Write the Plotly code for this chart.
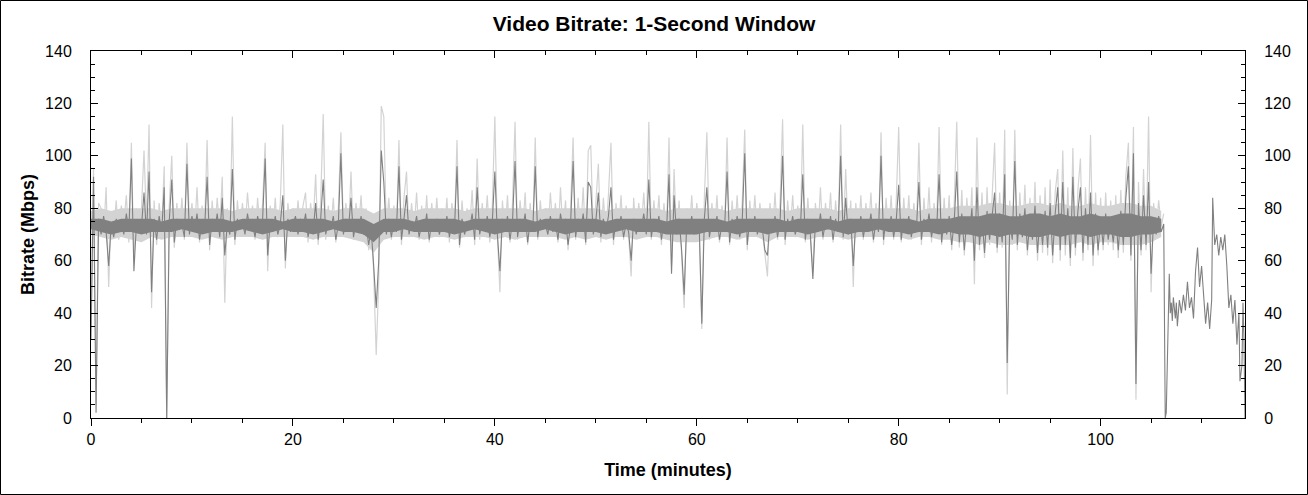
import plotly.graph_objects as go

# sample spacing of the dense part of the trace (minutes)
step_min = 0.25

# 1-second bitrate (Mbps), dark trace, one value every 15 s up to 106.25 min
bitrate_avg = [
    30, 92, 2, 76, 70, 77, 71, 58, 74, 69, 76, 72, 75, 70, 78, 71, 99, 56, 74, 72,       # 0-5
    73, 86, 70, 94, 48, 76, 68, 77, 71, 88, 0, 75, 91, 67, 76, 72, 74, 69, 97, 70,       # 5-10
    77, 71, 78, 68, 75, 72, 92, 66, 76, 71, 78, 69, 84, 62, 74, 70, 95, 68, 76, 72,      # 10-15
    75, 70, 78, 72, 74, 69, 77, 73, 76, 99, 62, 75, 71, 77, 70, 74, 85, 60, 76, 71,      # 15-20
    73, 77, 70, 76, 72, 78, 69, 75, 71, 82, 68, 76, 91, 70, 75, 72, 77, 68, 74, 101,     # 20-25
    70, 76, 72, 84, 69, 75, 71, 77, 70, 74, 66, 72, 58, 42, 60, 102, 90, 70, 76, 69,     # 25-30
    75, 71, 96, 68, 76, 85, 70, 75, 72, 77, 69, 74, 71, 78, 68, 75, 72, 76, 70, 74,      # 30-35
    71, 77, 69, 75, 72, 96, 66, 76, 70, 74, 72, 78, 68, 88, 70, 75, 72, 77, 69, 75,      # 35-40
    94, 70, 56, 76, 71, 77, 68, 75, 98, 69, 76, 72, 78, 67, 75, 71, 96, 69, 76, 72,      # 40-45
    74, 70, 77, 71, 75, 68, 78, 72, 76, 66, 74, 98, 69, 76, 71, 78, 67, 90, 88, 70,      # 45-50
    75, 86, 69, 76, 71, 77, 88, 68, 75, 72, 77, 69, 74, 71, 60, 76, 70, 75, 72, 78,      # 50-55
    70, 91, 69, 76, 72, 77, 68, 75, 71, 93, 55, 85, 70, 76, 64, 47, 74, 71, 77, 70,      # 55-60
    75, 72, 36, 76, 88, 69, 75, 71, 77, 68, 74, 72, 94, 67, 76, 71, 77, 69, 75, 101,     # 60-65
    66, 76, 71, 77, 70, 75, 72, 64, 62, 75, 71, 77, 69, 75, 100, 68, 76, 72, 77, 70,     # 65-70
    74, 71, 93, 68, 76, 70, 53, 75, 71, 78, 69, 75, 72, 77, 68, 76, 71, 100, 69, 84,     # 70-75
    70, 76, 58, 75, 71, 77, 69, 75, 72, 78, 68, 75, 71, 100, 68, 76, 71, 77, 69, 75,     # 75-80
    89, 68, 76, 71, 77, 69, 75, 72, 90, 68, 76, 71, 78, 69, 75, 71, 93, 67, 76, 70,      # 80-85
    77, 66, 75, 94, 67, 78, 64, 76, 70, 80, 60, 88, 66, 77, 63, 79, 68, 76, 86, 65,      # 85-90
    78, 67, 93, 21, 75, 68, 98, 66, 78, 69, 80, 64, 76, 68, 81, 63, 77, 66, 79, 65,      # 90-95
    82, 62, 78, 88, 64, 90, 66, 80, 61, 92, 65, 79, 88, 63, 80, 66, 86, 62, 78, 64,      # 95-100
    76, 66, 78, 68, 75, 67, 77, 64, 79, 66, 84, 96, 62, 101, 13, 82, 64, 85, 66, 90,     # 100-105
    55, 76, 70, 77, 71, 74,                                                              # 105-106.25
]

# peak bitrate (Mbps), light trace, same sampling
bitrate_peak = [
    35, 95, 5, 82, 80, 70, 88, 50, 79, 72, 83, 68, 81, 74, 85, 67, 105, 60, 80, 70,
    80, 102, 74, 112, 42, 83, 66, 82, 72, 96, 0, 81, 100, 65, 82, 70, 84, 68, 105, 73,
    82, 70, 88, 67, 81, 73, 106, 64, 83, 70, 84, 72, 92, 44, 80, 69, 115, 66, 83, 71,
    82, 71, 86, 74, 81, 68, 84, 72, 82, 105, 56, 81, 70, 84, 69, 82, 112, 57, 82, 72,
    80, 70, 83, 72, 81, 86, 67, 82, 73, 93, 66, 83, 116, 68, 81, 71, 84, 67, 80, 109,
    72, 82, 70, 94, 68, 82, 72, 85, 68, 80, 64, 78, 55, 24, 52, 119, 115, 72, 84, 68,
    81, 70, 106, 66, 84, 94, 69, 82, 72, 86, 68, 81, 70, 85, 67, 82, 71, 84, 69, 80,
    71, 84, 67, 82, 72, 106, 65, 83, 69, 80, 72, 87, 66, 99, 68, 82, 71, 85, 67, 81,
    115, 70, 48, 83, 70, 85, 67, 82, 113, 68, 83, 71, 86, 66, 82, 70, 107, 68, 83, 72,
    80, 69, 86, 72, 82, 67, 88, 71, 83, 64, 80, 107, 68, 84, 70, 88, 66, 102, 104, 70,
    82, 97, 67, 84, 70, 85, 105, 66, 82, 71, 85, 68, 81, 70, 54, 84, 69, 82, 72, 86,
    69, 113, 68, 83, 71, 85, 66, 82, 70, 107, 58, 95, 69, 83, 62, 42, 80, 70, 85, 69,
    82, 71, 34, 84, 109, 68, 82, 70, 85, 67, 81, 71, 107, 66, 83, 70, 85, 68, 82, 110,
    64, 83, 70, 85, 69, 82, 71, 62, 54, 82, 70, 86, 68, 82, 114, 66, 83, 71, 85, 69,
    81, 70, 112, 67, 84, 69, 56, 82, 70, 88, 68, 82, 71, 86, 67, 83, 70, 112, 68, 95,
    69, 83, 50, 82, 70, 85, 68, 82, 71, 86, 67, 82, 70, 109, 66, 84, 70, 85, 68, 82,
    111, 67, 84, 70, 85, 68, 82, 71, 105, 66, 84, 70, 88, 67, 82, 71, 111, 66, 84, 69,
    85, 64, 82, 113, 65, 87, 62, 84, 68, 88, 51, 107, 64, 86, 61, 88, 66, 84, 105, 63,
    86, 65, 110, 9, 83, 66, 110, 64, 86, 67, 89, 62, 84, 66, 90, 60, 85, 63, 88, 62,
    91, 59, 86, 95, 60, 102, 62, 88, 58, 103, 62, 87, 99, 60, 88, 64, 108, 58, 86, 62,
    84, 64, 86, 66, 83, 64, 85, 61, 87, 63, 92, 105, 60, 111, 7, 90, 62, 95, 64, 115,
    48, 82, 72, 83, 73, 78,
]

# end credits section, read point by point
tail_time = [106.4, 106.5, 106.6, 106.7, 106.8, 106.9, 107.0, 107.1, 107.2, 107.4,
             107.5, 107.6, 107.8, 108.0, 108.2, 108.4, 108.6, 108.8, 109.0, 109.2,
             109.4, 109.6, 109.8, 110.0, 110.2, 110.4, 110.6, 110.8, 111.0, 111.1,
             111.3, 111.5, 111.7, 111.9, 112.1, 112.3, 112.5, 112.7, 112.9, 113.1,
             113.3, 113.5, 113.7, 113.8, 114.0, 114.1, 114.2, 114.3]
tail_rate = [0, 2, 22, 48, 55, 40, 44, 37, 46, 38,
             44, 35, 45, 40, 47, 41, 52, 42, 46, 38,
             56, 65, 50, 58, 45, 36, 44, 34, 45, 84,
             66, 70, 62, 69, 64, 70, 58, 42, 47, 36,
             45, 28, 40, 14, 20, 44, 30, 0]

# solid core of each band (where the 1-s samples pile up), one value per minute 0-106
avg_core_lo = [
    72, 71, 70, 71, 71, 70, 71, 71, 71, 72, 71, 70, 71, 71, 71, 72, 71, 70, 71, 72,
    71, 71, 70, 71, 72, 71, 71, 70, 67, 71, 71, 72, 71, 71, 71, 71, 70, 71, 72, 71,
    70, 71, 71, 71, 71, 72, 71, 70, 71, 71, 71, 70, 71, 72, 71, 71, 71, 70, 70, 70,
    70, 71, 71, 71, 70, 71, 71, 70, 71, 71, 71, 70, 71, 72, 71, 70, 71, 71, 72, 71,
    71, 70, 71, 71, 70, 71, 70, 70, 69, 70, 69, 70, 70, 69, 69, 70, 69, 70, 70, 69,
    70, 70, 69, 69, 70, 70, 71,
]
avg_core_hi = [
    76, 76, 75, 76, 76, 76, 76, 75, 76, 76, 76, 76, 76, 76, 75, 76, 76, 76, 76, 75,
    76, 76, 76, 76, 75, 76, 76, 76, 74, 76, 76, 76, 75, 76, 76, 76, 76, 75, 76, 76,
    76, 76, 76, 76, 75, 76, 76, 76, 76, 76, 76, 75, 76, 76, 76, 76, 76, 75, 76, 76,
    76, 76, 76, 75, 76, 76, 76, 76, 76, 75, 76, 76, 76, 76, 75, 76, 76, 76, 76, 76,
    76, 76, 75, 76, 76, 76, 77, 77, 77, 78, 78, 77, 77, 78, 78, 77, 78, 77, 77, 78,
    77, 77, 78, 78, 77, 77, 76,
]
peak_core_lo = [
    70, 69, 68, 69, 68, 67, 69, 68, 69, 69, 69, 68, 69, 68, 69, 69, 69, 68, 69, 69,
    69, 69, 68, 69, 69, 69, 68, 67, 63, 68, 69, 69, 69, 68, 69, 69, 68, 69, 69, 69,
    68, 69, 68, 69, 69, 69, 69, 68, 69, 68, 69, 68, 69, 69, 68, 69, 69, 68, 67, 67,
    67, 68, 69, 69, 68, 69, 69, 67, 69, 69, 69, 68, 69, 69, 69, 68, 69, 69, 69, 69,
    69, 68, 69, 69, 68, 68, 67, 67, 66, 67, 66, 66, 67, 66, 66, 66, 66, 66, 67, 66,
    67, 67, 66, 66, 66, 67, 69,
]
peak_core_hi = [
    79, 80, 79, 80, 80, 80, 80, 79, 80, 80, 80, 80, 80, 80, 79, 80, 80, 80, 80, 79,
    80, 80, 80, 80, 79, 80, 80, 80, 78, 80, 80, 80, 79, 80, 80, 80, 80, 79, 80, 80,
    80, 80, 80, 80, 79, 80, 80, 80, 80, 80, 80, 79, 80, 80, 80, 80, 80, 79, 80, 80,
    80, 80, 80, 79, 80, 80, 80, 80, 80, 79, 80, 80, 80, 80, 79, 80, 80, 80, 80, 80,
    80, 80, 79, 80, 80, 80, 81, 81, 81, 82, 82, 81, 81, 82, 82, 81, 82, 81, 81, 82,
    81, 81, 82, 82, 81, 81, 79,
]

times = [i * step_min for i in range(len(bitrate_avg))]
core_times = list(range(len(avg_core_lo)))

DARK = "#808080"
LIGHT = "#d3d3d3"


def core_band(lo, hi, color, xa, ya):
    # closed polygon: along the top edge, back along the bottom edge
    return go.Scatter(x=core_times + core_times[::-1], y=hi + lo[::-1], fill="toself",
                      fillcolor=color, line=dict(width=0), mode="lines",
                      hoverinfo="skip", showlegend=False, xaxis=xa, yaxis=ya)


fig = go.Figure()
# light trace on the main axes, dark one on the overlay axes so it sits on top
fig.add_trace(core_band(peak_core_lo, peak_core_hi, LIGHT, "x", "y"))
fig.add_trace(go.Scatter(x=times, y=bitrate_peak, mode="lines",
                         line=dict(color=LIGHT, width=1.2), showlegend=False))
fig.add_trace(core_band(avg_core_lo, avg_core_hi, DARK, "x2", "y2"))
fig.add_trace(go.Scatter(x=times + tail_time, y=bitrate_avg + tail_rate, mode="lines",
                         line=dict(color=DARK, width=1.1), showlegend=False,
                         xaxis="x2", yaxis="y2"))

W, H = 1308, 495
ml, mr, mt, mb = 91, 63, 51, 77
pw, ph = W - ml - mr, H - mt - mb
font = "Arial, Liberation Sans, sans-serif"

xr = [0, 114.3]
yr = [0, 140]
tick_col = "black"

fig.update_layout(
    width=W, height=H,
    margin=dict(l=ml, r=mr, t=mt, b=mb, autoexpand=False),
    paper_bgcolor="white", plot_bgcolor="white",
    font=dict(family=font, size=16, color="black"),
    title=dict(text="<b>Video Bitrate: 1-Second Window</b>", x=0.5, xanchor="center",
               y=1 - 24 / H, yanchor="middle", yref="container",
               font=dict(size=21)),
    xaxis=dict(range=xr, dtick=20, ticks="outside", ticklen=7, tickcolor=tick_col,
               showline=True, linecolor="black", showgrid=False, zeroline=False,
               minor=dict(dtick=5, ticks="outside", ticklen=4, tickcolor=tick_col),
               title=dict(text="<b>Time (minutes)</b>", font=dict(size=18), standoff=16)),
    xaxis2=dict(range=xr, overlaying="x", side="top", dtick=20, ticks="inside", ticklen=7,
                tickcolor=tick_col, showticklabels=False, showline=True, linecolor="black",
                showgrid=False, zeroline=False,
                minor=dict(dtick=5, ticks="inside", ticklen=4, tickcolor=tick_col)),
    yaxis=dict(range=yr, dtick=20, ticks="inside", ticklen=7, tickcolor=tick_col,
               showline=True, linecolor="black", showgrid=False, zeroline=False,
               ticklabelstandoff=15,
               minor=dict(dtick=5, ticks="inside", ticklen=4, tickcolor=tick_col),
               title=dict(text="<b>Bitrate (Mbps)</b>", font=dict(size=18), standoff=5)),
    yaxis2=dict(range=yr, overlaying="y", side="right", dtick=20, ticks="inside", ticklen=7,
                tickcolor=tick_col, showline=True, linecolor="black", showgrid=False,
                zeroline=False, ticklabelstandoff=15,
                minor=dict(dtick=5, ticks="inside", ticklen=4, tickcolor=tick_col)),
)

# thin frame round the whole picture
fig.add_shape(type="rect", xref="paper", yref="paper",
              x0=-(ml - 0.5) / pw, x1=1 + (mr - 0.5) / pw,
              y0=-(mb - 0.5) / ph, y1=1 + (mt - 0.5) / ph,
              line=dict(color="black", width=1))

# drop the browser's default page margin so the figure fills the window
fig.write_html("out.html", config={"displayModeBar": False},
               post_script="document.body.style.margin='0';")
